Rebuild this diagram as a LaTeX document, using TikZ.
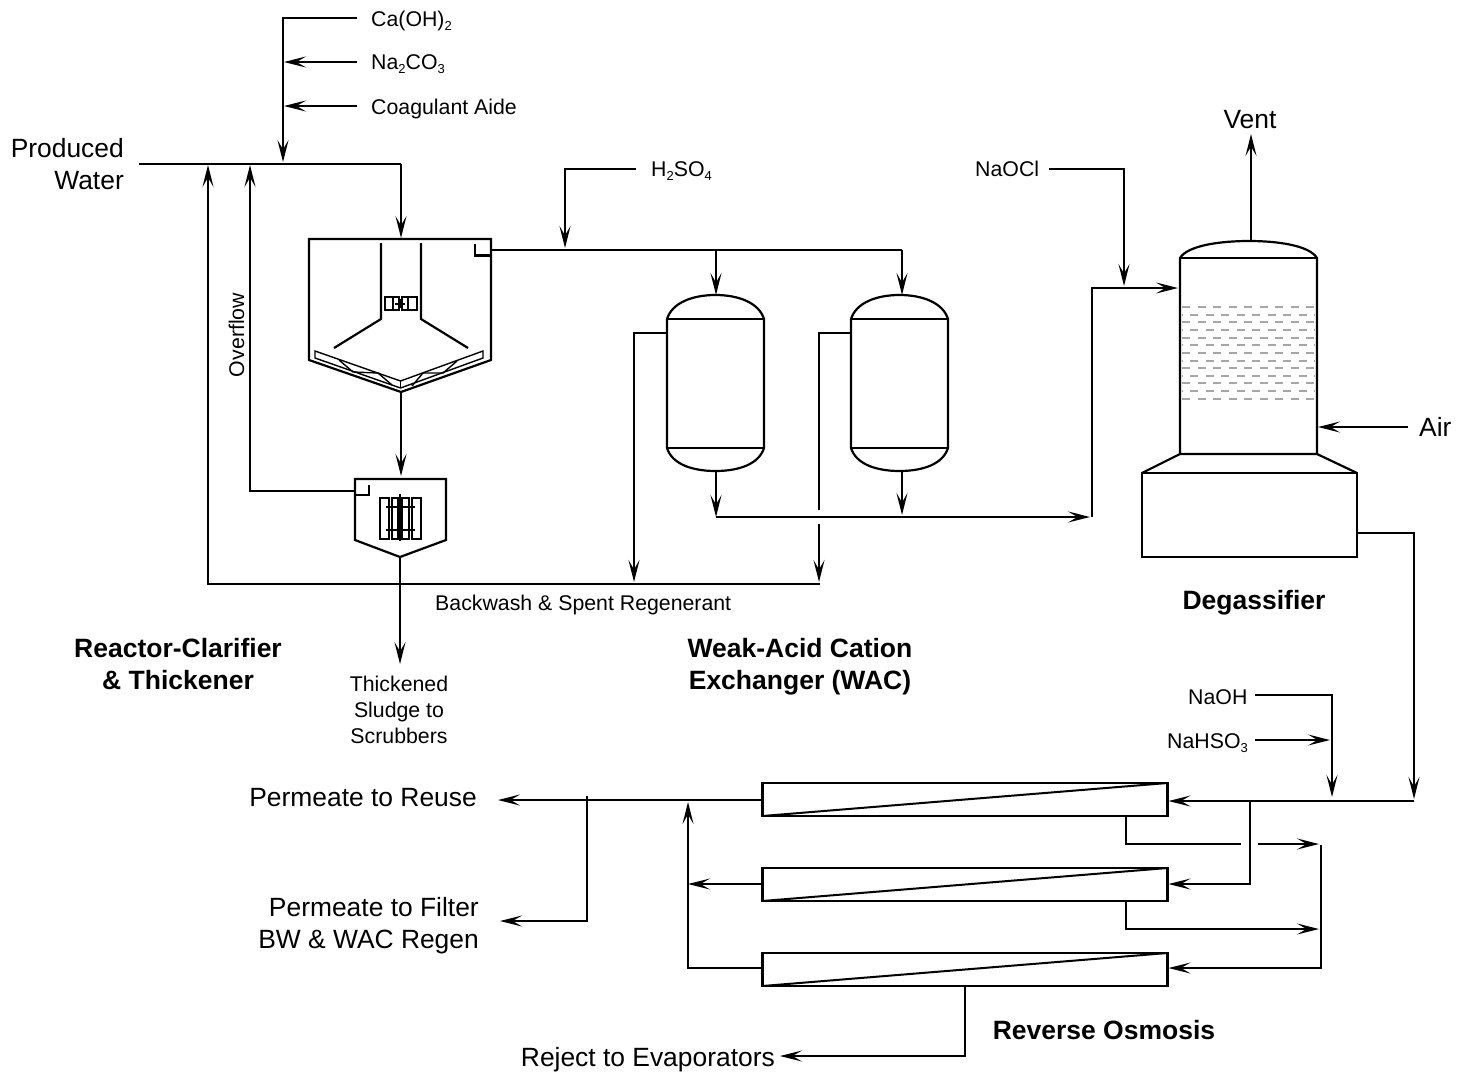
\documentclass[tikz,border=0pt]{standalone}
\usepackage{fontspec}
\setmainfont{Liberation Sans}
\usetikzlibrary{arrows.meta}
\newcommand\subnum[1]{\raisebox{-4.5pt}{\fontsize{13}{14}\selectfont #1}}
\tikzset{
  x=1pt,y=-1pt,
  pipe/.style={line width=2pt,line join=miter},
  flow/.style={pipe,-{Stealth[length=22pt,width=11pt,inset=9.5pt]}},
  wall/.style={line width=2.2pt,line join=miter},
  thin part/.style={line width=1.4pt},
  packing/.style={line width=2pt,draw=gray!70},
  small/.style={font=\fontsize{21.3}{24}\selectfont,inner sep=0pt},
  large/.style={font=\fontsize{26.4}{30}\selectfont,inner sep=0pt},
  title/.style={font=\fontsize{26.5}{30}\selectfont\bfseries,inner sep=0pt},
  robox/.style={draw,line width=2.2pt,minimum width=405pt,minimum height=33pt,inner sep=0pt,outer sep=0pt},
}
\begin{document}
\begin{tikzpicture}
\useasboundingbox (0,0) rectangle (1457,1074);
% ----- labels
\node[small,anchor=base west] (caoh) at (371,26) {Ca(OH)\subnum{2}};
\node[small,anchor=base west] (soda) at (371,69) {Na\subnum{2}CO\subnum{3}};
\node[small,anchor=base west] (coag) at (371,114) {Coagulant Aide};
\node[large,anchor=base east] (prod) at (124,157) {Produced};
\node[large,anchor=base east] (wat) at (124,189) {Water};
\node[small,anchor=base,rotate=90] (over) at (244,335) {Overflow};
\node[small,anchor=base west] (h2so4) at (651,176) {H\subnum{2}SO\subnum{4}};
\node[small,anchor=base west] (naocl) at (975,176) {NaOCl};
\node[large,anchor=base] (vent) at (1250,128) {Vent};
\node[large,anchor=base west] (air) at (1419,436) {Air};
\node[small,anchor=base west] (bw) at (435,610) {Backwash \& Spent Regenerant};
\node[title,anchor=base] (t1a) at (178,657) {Reactor-Clarifier};
\node[title,anchor=base] (t1b) at (178,689) {\& Thickener};
\node[title,anchor=base] (t2a) at (800,657) {Weak-Acid Cation};
\node[title,anchor=base] (t2b) at (800,689) {Exchanger (WAC)};
\node[title,anchor=base] (t3) at (1254,609) {Degassifier};
\node[title,anchor=base] (t4) at (1104,1039) {Reverse Osmosis};
\node[small,anchor=base] (sl1) at (399,691) {Thickened};
\node[small,anchor=base] (sl2) at (399,717) {Sludge to};
\node[small,anchor=base] (sl3) at (399,743) {Scrubbers};
\node[small,anchor=base west] (naoh) at (1188,704) {NaOH};
\node[small,anchor=base west] (nahso) at (1167,748) {NaHSO\subnum{3}};
\node[large,anchor=base east] (pr) at (477,806) {Permeate to Reuse};
\node[large,anchor=base east] (pf) at (479,916) {Permeate to Filter};
\node[large,anchor=base east] (pb) at (479,948) {BW \& WAC Regen};
\node[large,anchor=base east] (rj) at (775,1066) {Reject to Evaporators};
% ----- reverse osmosis modules
\node[robox] (ro1) at (965,799.5) {};
\node[robox] (ro2) at (965,884.5) {};
\node[robox] (ro3) at (965,969.5) {};
\foreach \r in {ro1,ro2,ro3} \draw[pipe] (\r.south west) -- (\r.north east);
% ----- reactor clarifier
\coordinate (rcTL) at (309,239); \coordinate (rcTR) at (491,239);
\coordinate (rcR) at (491,360); \coordinate (rcB) at (401,392); \coordinate (rcL) at (309,360);
\draw[wall] (rcTL) -- (rcTR) -- (rcR) -- (rcB) -- (rcL) -- cycle;
\draw[wall] (381,243) -- (381,319) -- (334,348);
\draw[wall] (421,243) -- (421,319) -- (468,348);
\draw[wall] (475,244) -- (475,255.5) -- (491,255.5);
\draw[thin part] (385,297) rectangle (399,310) (393,297) -- (393,310);
\draw[thin part] (402,297) rectangle (417,310) (408,297) -- (408,310);
\draw[thin part] (395,304) -- (405,304) (400,299) -- (400,308);
\draw[thin part] (315,351) -- (400.5,381) -- (483,351) -- (483,358) -- (400.5,388) -- (315,358) -- cycle;
\draw[thin part] (339,360) -- (353,372) -- (378,373) -- (392,385);
\draw[thin part] (457,361) -- (443,373) -- (423,373) -- (412,386);
\draw[thin part] (400.5,381) -- (400.5,388);
% ----- thickener
\coordinate (thTL) at (355,479); \coordinate (thTR) at (446,479);
\coordinate (thR) at (446,540); \coordinate (thB) at (400,557); \coordinate (thL) at (355,540);
\draw[wall] (thTL) -- (thTR) -- (thR) -- (thB) -- (thL) -- cycle;
\draw[wall] (369,485) -- (369,495) -- (355,495);
\draw[thin part] (380,498) rectangle (389,539) (392,498) rectangle (398,539)
  (402,498) rectangle (409,539) (412,498) rectangle (421,539);
\draw[thin part] (386,507) -- (415,507) (386,530) -- (415,530);
\draw[thin part] (400,494) -- (400,541);
% ----- WAC vessels
\foreach \n/\l in {a/667,b/851}{
  \draw[wall] (\l,319) .. controls (\l+5,303) and (\l+25,295) .. (\l+48.5,295)
     .. controls (\l+72,295) and (\l+92,303) .. (\l+97,319) -- (\l+97,448)
     .. controls (\l+92,464) and (\l+72,471) .. (\l+48.5,471)
     .. controls (\l+25,471) and (\l+5,464) .. (\l,448) -- cycle;
  \draw[wall] (\l,319) -- (\l+97,319) (\l,448) -- (\l+97,448);
  \coordinate (v\n S) at (\l,333);
}
\coordinate (vaT) at (716,295); \coordinate (vaB) at (716,471);
\coordinate (vbT) at (902,295); \coordinate (vbB) at (902,471);
% ----- degassifier
\draw[wall] (1180,258) .. controls (1188,245) and (1222,241) .. (1249,241)
   .. controls (1276,241) and (1309,245) .. (1317,258) -- (1317,454) -- (1180,454) -- cycle;
\draw[wall] (1180,258) -- (1317,258);
\draw[wall] (1180,454) -- (1142,473) (1317,454) -- (1357,473);
\node[draw,line width=2.2pt,minimum width=215pt,minimum height=84pt,inner sep=0pt,outer sep=0pt] (dg) at (1249.5,515) {};
\begin{scope}
\clip (1182,290) rectangle (1315,410);
\foreach \k in {0,...,12}{
  \pgfmathsetmacro\yy{round(307+7.65*\k)}
  \pgfmathsetmacro\off{mod(\k,2)==1?7.5:0}
  \draw[packing,dash pattern=on 8pt off 7.5pt,dash phase=\off pt] (1182,\yy) -- (1315,\yy);
}
\end{scope}
\coordinate (dgT) at (1251,241); \coordinate (dgF) at (1178,288); \coordinate (dgA) at (1318,427);
% ----- junction coordinates
\coordinate (feedIn) at (139,164); \coordinate (feedT) at (401,164);
\coordinate (rcIn) at (401,238);
\coordinate (chemX) at (283,162); \coordinate (chem1) at (284,62); \coordinate (chem2) at (284,106);
\coordinate (ofIn) at (250,165); \coordinate (ofC) at (250,491); \coordinate (thOf) at (355,491);
\coordinate (bwEnd) at (820,584); \coordinate (bwC) at (208,584); \coordinate (bwIn) at (208,165);
\coordinate (rcOut) at (491,250); \coordinate (hdr) at (902,250);
\coordinate (acidIn) at (565,248);
\coordinate (col) at (716,517); \coordinate (colE) at (1090,517);
\coordinate (clW) at (1124,286);
% ----- clarifier side piping
\draw[flow] ([xshift=-14pt]caoh.west |- 0,18) -- (283,18) -- (chemX);
\draw[flow] ([xshift=-14pt]soda.west |- 0,62) -- (chem1);
\draw[flow] ([xshift=-14pt]coag.west |- 0,106) -- (chem2);
\draw[pipe] (feedIn) -- (feedT);
\draw[flow] (feedT) -- (rcIn);
\draw[flow] (rcB) -- (401,476);
\draw[flow] (thOf) -- (ofC) -- (ofIn);
\draw[flow] (bwEnd) -- (bwC) -- (bwIn);
\draw[flow] (thB) -- (400,664);
% ----- WAC piping
\draw[pipe] (rcOut) -- (hdr);
\draw[flow] (636,169) -- (565,169) -- (acidIn);
\draw[flow] (716,250) -- (vaT);
\draw[flow] (hdr) -- (vbT);
\draw[flow] (vaS) -- (634,333) -- (634,582);
\draw[pipe] (vbS) -- (819,333) -- (819,510);
\draw[flow] (819,524) -- (819,582);
\draw[flow] (vaB) -- (col);
\draw[flow] (vbB) -- (902,515);
\draw[flow] (col) -- (colE);
% ----- degassifier piping
\draw[flow] (1092,517) -- (1092,288) -- (dgF);
\draw[flow] (1049,169) -- (1124,169) -- (clW);
\draw[flow] (dgT) -- (1251,134);
\draw[flow] (1408,427) -- (dgA);
\draw[flow] (1357,533) -- (1414,533) -- (1414,799);
% ----- RO piping
\draw[flow] (1414,801) -- ([xshift=1pt]ro1.east |- 0,801);
\draw[flow] (1255,695) -- (1332,695) -- (1332,797);
\draw[flow] (1255,740) -- (1330,740);
\draw[flow] (1250,800) -- (1250,884) -- ([xshift=1pt]ro2.east |- 0,884);
\draw[pipe] (1126,816) -- (1126,844) -- (1241,844);
\draw[flow] (1258,844) -- (1319,844);
\draw[flow] (1126,901) -- (1126,929) -- (1319,929);
\draw[flow] (1321,845) -- (1321,968) -- ([xshift=1pt]ro3.east |- 0,968);
\draw[flow] (ro1.west |- 0,800) -- (498,800);
\draw[flow] (587,796) -- (587,921) -- (500,921);
\draw[flow] (ro2.west |- 0,884) -- (688,884);
\draw[flow] (ro3.west |- 0,968) -- (688,968) -- (688,802);
\draw[flow] (965,986) -- (965,1056) -- (780,1056);
\end{tikzpicture}
\end{document}
